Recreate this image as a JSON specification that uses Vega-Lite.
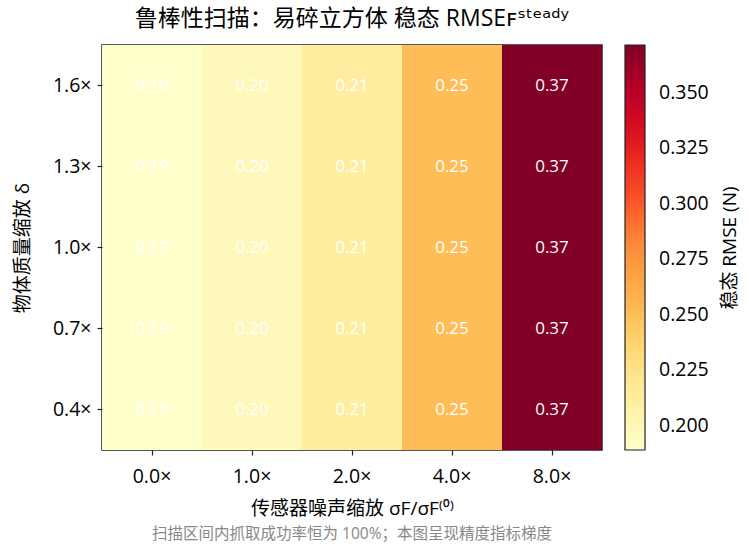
{
  "$schema": "https://vega.github.io/schema/vega-lite/v6.json",
  "background": "white",
  "padding": {"top": 8, "left": 12, "right": 4, "bottom": 2},
  "title": {
    "text": "鲁棒性扫描：易碎立方体  稳态 RMSEꜰˢᵗᵉᵃᵈʸ",
    "fontSize": 23,
    "fontWeight": "normal",
    "font": "Open Sans, Noto Sans CJK SC, DejaVu Sans",
    "color": "black",
    "anchor": "middle",
    "frame": "group",
    "offset": 13
  },
  "config": {
    "font": "Open Sans, Noto Sans CJK SC, DejaVu Sans",
    "view": {"stroke": "#222", "strokeWidth": 1.5},
    "text": {"font": "Open Sans, Noto Sans CJK SC, DejaVu Sans"},
    "axis": {
      "labelFont": "Open Sans, Noto Sans CJK SC, DejaVu Sans",
      "titleFont": "Open Sans, Noto Sans CJK SC, DejaVu Sans",
      "labelFontSize": 19.5,
      "titleFontSize": 19,
      "titleFontWeight": "normal",
      "labelColor": "black",
      "titleColor": "black",
      "tickColor": "#222",
      "tickSize": 5,
      "tickWidth": 1.2,
      "domain": false,
      "grid": false
    },
    "legend": {
      "labelFont": "Open Sans, Noto Sans CJK SC, DejaVu Sans",
      "titleFont": "Open Sans, Noto Sans CJK SC, DejaVu Sans",
      "labelFontSize": 19.5,
      "titleFontSize": 19,
      "titleFontWeight": "normal",
      "labelColor": "black",
      "titleColor": "black"
    }
  },
  "vconcat": [
    {
      "width": 500,
      "height": 405,
      "title": {
        "text": "扫描区间内抓取成功率恒为 100%；本图呈现精度指标梯度",
        "orient": "bottom",
        "fontSize": 15.5,
        "fontWeight": "normal",
        "color": "#888888",
        "anchor": "middle",
        "frame": "group",
        "offset": 8
      },
      "data": {
        "values": [
          {"noise": "0.0×", "mass": "1.6×", "rmse": 0.189},
          {"noise": "1.0×", "mass": "1.6×", "rmse": 0.198},
          {"noise": "2.0×", "mass": "1.6×", "rmse": 0.212},
          {"noise": "4.0×", "mass": "1.6×", "rmse": 0.251},
          {"noise": "8.0×", "mass": "1.6×", "rmse": 0.3715},
          {"noise": "0.0×", "mass": "1.3×", "rmse": 0.189},
          {"noise": "1.0×", "mass": "1.3×", "rmse": 0.198},
          {"noise": "2.0×", "mass": "1.3×", "rmse": 0.212},
          {"noise": "4.0×", "mass": "1.3×", "rmse": 0.251},
          {"noise": "8.0×", "mass": "1.3×", "rmse": 0.3715},
          {"noise": "0.0×", "mass": "1.0×", "rmse": 0.189},
          {"noise": "1.0×", "mass": "1.0×", "rmse": 0.198},
          {"noise": "2.0×", "mass": "1.0×", "rmse": 0.212},
          {"noise": "4.0×", "mass": "1.0×", "rmse": 0.251},
          {"noise": "8.0×", "mass": "1.0×", "rmse": 0.3715},
          {"noise": "0.0×", "mass": "0.7×", "rmse": 0.189},
          {"noise": "1.0×", "mass": "0.7×", "rmse": 0.198},
          {"noise": "2.0×", "mass": "0.7×", "rmse": 0.212},
          {"noise": "4.0×", "mass": "0.7×", "rmse": 0.251},
          {"noise": "8.0×", "mass": "0.7×", "rmse": 0.3715},
          {"noise": "0.0×", "mass": "0.4×", "rmse": 0.189},
          {"noise": "1.0×", "mass": "0.4×", "rmse": 0.198},
          {"noise": "2.0×", "mass": "0.4×", "rmse": 0.212},
          {"noise": "4.0×", "mass": "0.4×", "rmse": 0.251},
          {"noise": "8.0×", "mass": "0.4×", "rmse": 0.3715}
        ]
      },
      "encoding": {
        "x": {
          "field": "noise",
          "type": "ordinal",
          "sort": ["0.0×", "1.0×", "2.0×", "4.0×", "8.0×"],
          "title": "传感器噪声缩放 σF/σF⁽⁰⁾",
          "axis": {"labelAngle": 0, "labelPadding": 12, "titlePadding": 14}
        },
        "y": {
          "field": "mass",
          "type": "ordinal",
          "sort": ["1.6×", "1.3×", "1.0×", "0.7×", "0.4×"],
          "title": "物体质量缩放 δ",
          "axis": {"labelPadding": 6, "titlePadding": 20}
        }
      },
      "layer": [
        {
          "mark": {"type": "rect"},
          "encoding": {
            "color": {
              "field": "rmse",
              "type": "quantitative",
              "scale": {
                "domain": [0.189, 0.3715],
                "range": ["#ffffcc", "#ffeda0", "#fed976", "#feb24c", "#fd8d3c", "#fc4e2a", "#e31a1c", "#bd0026", "#800026"]
              },
              "legend": {
                "title": "稳态 RMSE (N)",
                "orient": "right",
                "offset": 22,
                "gradientLength": 405,
                "gradientThickness": 20,
                "gradientStrokeColor": "#222",
                "gradientStrokeWidth": 1.2,
                "values": [0.2, 0.225, 0.25, 0.275, 0.3, 0.325, 0.35],
                "format": ".3f",
                "labelOffset": 14,
                "titleOrient": "right",
                "titlePadding": 12,
                "encode": {"title": {"update": {"angle": {"value": 270}, "baseline": {"value": "top"}}}}
              }
            }
          }
        },
        {
          "mark": {"type": "text", "color": "white", "fontSize": 17},
          "encoding": {
            "text": {"field": "rmse", "type": "quantitative", "format": ".2f"}
          }
        }
      ]
    }
  ]
}
